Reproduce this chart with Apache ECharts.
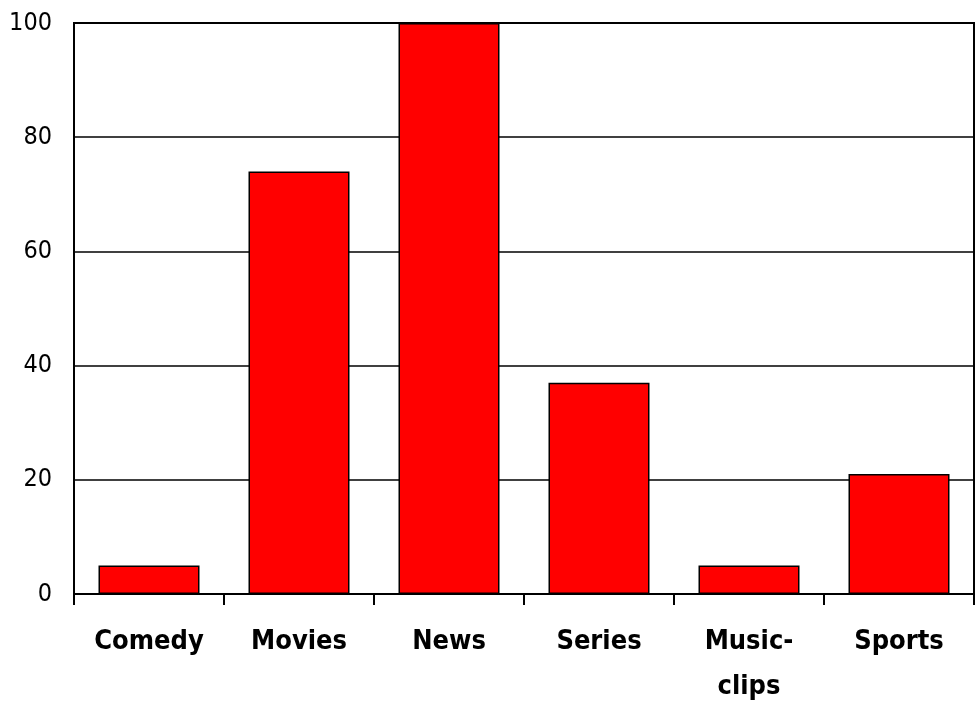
<!DOCTYPE html>
<html>
<head>
<meta charset="utf-8">
<script src="https://cdn.jsdelivr.net/npm/echarts@6/dist/echarts.min.js"></script>
<style>
  html, body { margin: 0; padding: 0; background: #fff; }
  #chart { width: 979px; height: 701px; }
</style>
</head>
<body>
<div id="chart"></div>
<script>
// genres and their values
var categories = ['Comedy', 'Movies', 'News', 'Series', 'Music-\nclips', 'Sports'];
var values = [5, 74, 100, 37, 5, 21];
var yTicks = { min: 0, max: 100, interval: 20 };

var narrow = '"DejaVu Sans Condensed", "Liberation Sans", Arial, sans-serif';

var chart = echarts.init(document.getElementById('chart'));
var option = {
    animation: false,
    backgroundColor: '#fff',
    textStyle: { fontFamily: narrow },
    grid: {
        left: 74, right: 5, top: 23, bottom: 107,
        show: true, borderColor: '#000', borderWidth: 2,
        containLabel: false,
        outerBoundsMode: 'none'
    },
    xAxis: {
        type: 'category',
        data: categories,
        axisLine: { lineStyle: { color: '#000', width: 2 } },
        axisTick: { show: true, length: 11, lineStyle: { color: '#000', width: 2 } },
        axisLabel: {
            color: '#000', fontSize: 27, fontWeight: 'bold', fontFamily: narrow,
            margin: 25, lineHeight: 45, interval: 0
        }
    },
    yAxis: {
        type: 'value',
        min: yTicks.min, max: yTicks.max, interval: yTicks.interval,
        axisLine: { show: true, lineStyle: { color: '#000', width: 2 } },
        axisTick: { show: false },
        axisLabel: { color: '#000', fontSize: 25, fontFamily: narrow, margin: 22 },
        splitLine: { lineStyle: { color: '#000', width: 1.5 } }
    },
    series: [{
        type: 'bar',
        data: values,
        barWidth: 101,
        itemStyle: { color: '#ff0000', borderColor: '#000', borderWidth: 1.5 }
    }]
};
chart.setOption(option);
</script>
</body>
</html>
